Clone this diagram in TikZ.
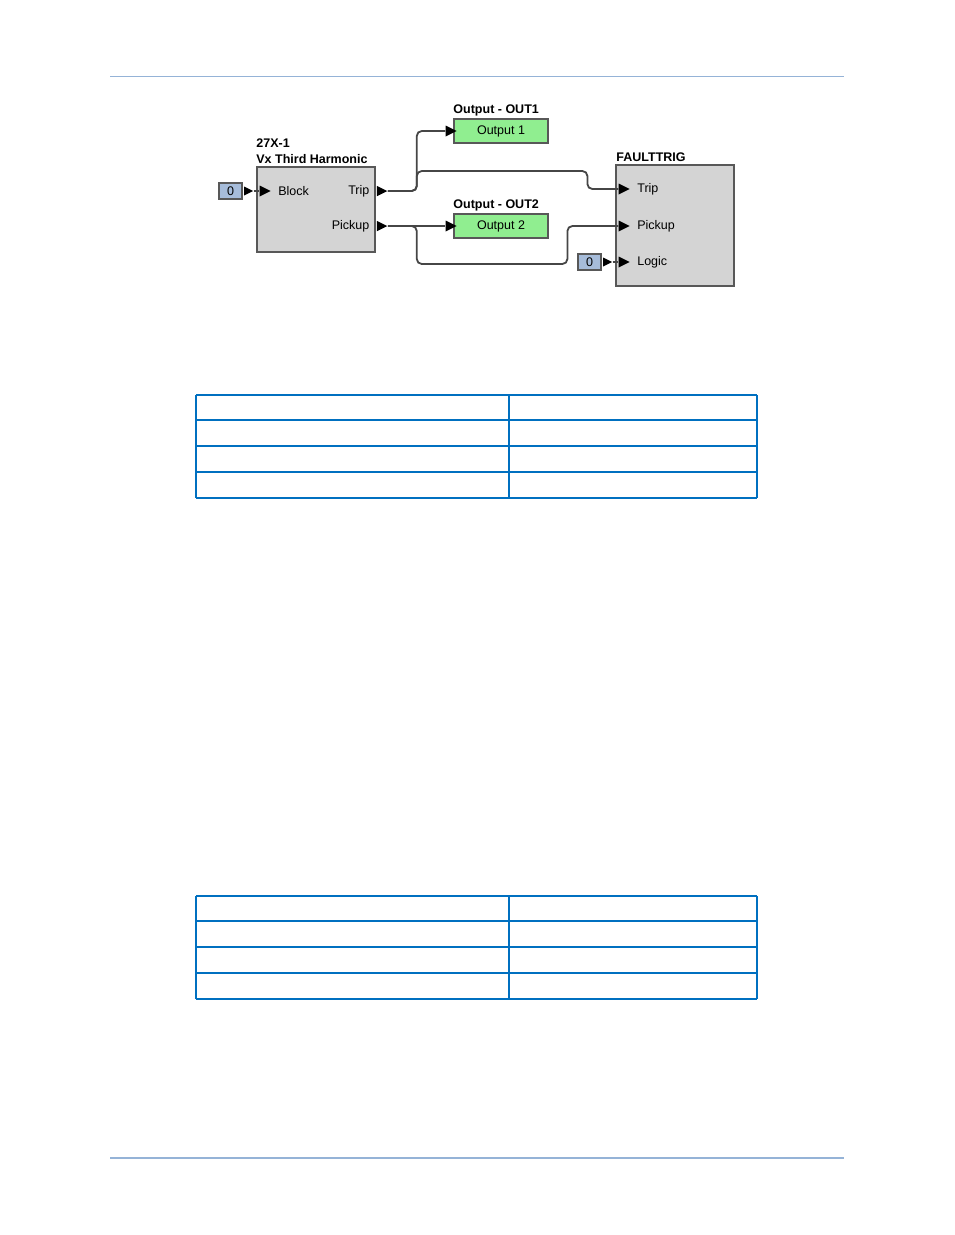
\documentclass[tikz,border=0pt]{standalone}
\usepackage{fontspec}
\setmainfont{Liberation Sans}
\usetikzlibrary{shapes.geometric, positioning, calc}
\definecolor{BlockGray}{RGB}{212,212,212}
\definecolor{EdgeGray}{RGB}{88,88,88}
\definecolor{OutGreen}{RGB}{144,238,144}
\definecolor{ZeroBlue}{RGB}{166,188,218}
\definecolor{RuleBlue}{RGB}{149,179,215}
\definecolor{TableBlue}{RGB}{0,112,192}
\definecolor{WireGray}{RGB}{70,70,70}

\begin{document}
\begin{tikzpicture}[
        x=1pt, y=-1pt,
        every node/.style={font=\fontsize{12.5}{14}\selectfont, inner sep=0},
        block/.style={rectangle, draw=EdgeGray, line width=1.6pt, fill=BlockGray, minimum width=118pt},
        outbox/.style={rectangle, draw=EdgeGray, line width=1.5pt, fill=OutGreen, minimum width=94pt, minimum height=24pt},
        zerobox/.style={rectangle, draw=EdgeGray, line width=1.3pt, fill=ZeroBlue, minimum width=23pt, minimum height=16pt},
        inport/.style={isosceles triangle, isosceles triangle stretches, fill=black, minimum width=11pt, minimum height=11pt},
        outport/.style={isosceles triangle, isosceles triangle stretches, fill=black, minimum width=10.5pt, minimum height=10.5pt},
        title/.style={font=\fontsize{12.5}{16}\selectfont\bfseries, anchor=south west, align=left},
        wire/.style={draw=WireGray, line width=1.8pt, rounded corners=5pt},
        tline/.style={draw=TableBlue, line width=1.2pt}
    ]
        \useasboundingbox (0,0) rectangle (954,1235);

        % Page rules
        \draw[RuleBlue, line width=1.6pt] (110,76.5) -- (844,76.5);
        \draw[RuleBlue, line width=1.6pt] (110,1158) -- (844,1158);

        % 27X-1 block
        \node[block, minimum height=85pt] (vx) at (316,209.5) {};
        \node[title] (vx-title) at ($(vx.north west)+(0,-2)$) {27X-1\\Vx Third Harmonic};
        \node[inport] (vx-block) at (263,191) {};
        \node[outport] (vx-trip) at (380,191) {};
        \node[outport] (vx-pick) at (380,226) {};
        \node[right=7pt of vx-block] {Block};
        \node[left=7pt of vx-trip] {Trip};
        \node[left=7pt of vx-pick] {Pickup};

        % Block input
        \node[zerobox] (zero1) at (230.5,191) {0};
        \node[outport, minimum width=9pt, minimum height=9pt] (zero1-out) at (247,191) {};

        % Outputs
        \node[outbox] (out1) at (501,131) {Output 1};
        \node[title] at ($(out1.north west)+(0,-2)$) {Output - OUT1};
        \node[inport] (out1-in) at (449,131) {};
        \node[outbox] (out2) at (501,226) {Output 2};
        \node[title] at ($(out2.north west)+(0,-2)$) {Output - OUT2};
        \node[inport] (out2-in) at (449,226) {};

        % FAULTTRIG block
        \node[block, minimum height=121pt] (ft) at (675,225.5) {};
        \node[title] at ($(ft.north west)+(1,-2)$) {FAULTTRIG};
        \node[inport] (ft-trip) at (622,189) {};
        \node[inport] (ft-pick) at (622,226) {};
        \node[inport] (ft-logic) at (622,262) {};
        \node[right=7pt of ft-trip] {Trip};
        \node[right=7pt of ft-pick] {Pickup};
        \node[right=7pt of ft-logic] {Logic};

        % Logic input
        \node[zerobox] (zero2) at (589.5,262) {0};
        \node[outport, minimum width=9pt, minimum height=9pt] (zero2-out) at (606,262) {};

        % Wires
        \draw[wire] (zero1-out.east) -- (vx-block.west);
        \draw[wire] (vx-trip.east) -- ++(29,0) |- (out1-in.west);
        \draw[wire] (vx-trip.east) -- ++(29,0) -- ++(0,-20) -| ($(ft-trip.west)+(-31,0)$) -- (ft-trip.west);
        \draw[wire] (vx-pick.east) -- (out2-in.west);
        \draw[wire] (vx-pick.east) -- ++(29,0) -- ++(0,38) -| ($(ft-pick.west)+(-51,0)$) -- (ft-pick.west);
        \draw[wire] (zero2-out.east) -- (ft-logic.west);

        % Tables
        \foreach \t in {395,896} {
            \foreach \r in {0,25,51,77,103}
                \draw[tline] (196,\t+\r) -- (757,\t+\r);
            \foreach \c in {196,509,757}
                \draw[tline] (\c,\t) -- (\c,\t+103);
        }
    \end{tikzpicture}
\end{document}
